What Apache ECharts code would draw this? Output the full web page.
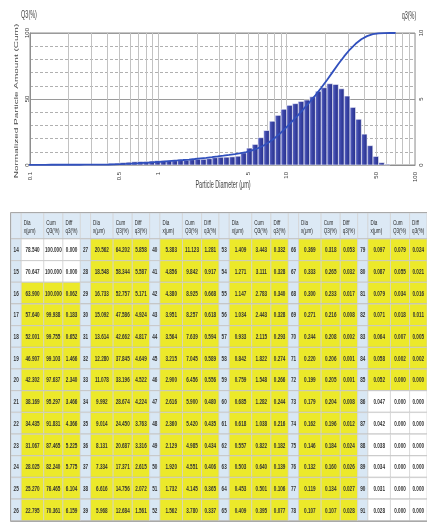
<!DOCTYPE html>
<html>
<head>
<meta charset="utf-8">
<script src="https://cdn.jsdelivr.net/npm/echarts@6/dist/echarts.min.js"></script>
<style>
  html, body { margin: 0; padding: 0; background: #fff; }
  #chart { width: 427px; height: 525px; }
</style>
</head>
<body>
<div id="chart"></div>
<script>
// Size classes of the laser-diffraction result (No. 14 .. 91)
const sizeClass = [
  14, 15, 16, 17, 18, 19, 20, 21, 22, 23, 24, 25, 26,
  27, 28, 29, 30, 31, 32, 33, 34, 35, 36, 37, 38, 39,
  40, 41, 42, 43, 44, 45, 46, 47, 48, 49, 50, 51, 52,
  53, 54, 55, 56, 57, 58, 59, 60, 61, 62, 63, 64, 65,
  66, 67, 68, 69, 70, 71, 72, 73, 74, 75, 76, 77, 78,
  79, 80, 81, 82, 83, 84, 85, 86, 87, 88, 89, 90, 91
];
// Particle diameter x (µm)
const diameter = [
  78.540, 70.647, 63.900, 57.640, 52.001, 46.907, 42.302, 38.169, 34.435, 31.067, 28.025, 25.270, 22.795,
  20.562, 18.548, 16.733, 15.092, 13.614, 12.280, 11.078, 9.992, 9.014, 8.131, 7.334, 6.616, 5.968,
  5.383, 4.856, 4.380, 3.951, 3.564, 3.215, 2.900, 2.616, 2.360, 2.129, 1.920, 1.732, 1.562,
  1.409, 1.271, 1.147, 1.034, 0.933, 0.842, 0.759, 0.685, 0.618, 0.557, 0.503, 0.453, 0.409,
  0.369, 0.333, 0.300, 0.271, 0.244, 0.220, 0.199, 0.179, 0.162, 0.146, 0.132, 0.119, 0.107,
  0.097, 0.087, 0.079, 0.071, 0.064, 0.058, 0.052, 0.047, 0.042, 0.038, 0.034, 0.031, 0.028
];
// Cumulative undersize Q3 (%)
const cumQ3 = [
  100.000, 100.000, 100.000, 99.938, 99.755, 99.103, 97.637, 95.297, 91.831, 87.465, 82.240, 76.465, 70.361,
  64.202, 58.344, 52.757, 47.586, 42.662, 37.845, 33.196, 28.674, 24.450, 20.687, 17.371, 14.756, 12.684,
  11.123, 9.842, 8.925, 8.257, 7.639, 7.045, 6.456, 5.900, 5.420, 4.985, 4.551, 4.145, 3.780,
  3.443, 3.111, 2.783, 2.443, 2.115, 1.822, 1.548, 1.282, 1.038, 0.822, 0.640, 0.501, 0.395,
  0.318, 0.265, 0.233, 0.216, 0.208, 0.206, 0.205, 0.204, 0.196, 0.184, 0.160, 0.134, 0.107,
  0.079, 0.055, 0.034, 0.018, 0.007, 0.002, 0.000, 0.000, 0.000, 0.000, 0.000, 0.000, 0.000
];
// Frequency q3 (%) of each class
const diffQ3 = [
  0.000, 0.000, 0.062, 0.183, 0.652, 1.466, 2.340, 3.466, 4.366, 5.225, 5.775, 6.104, 6.159,
  5.858, 5.587, 5.171, 4.924, 4.817, 4.649, 4.522, 4.224, 3.763, 3.316, 2.615, 2.072, 1.561,
  1.281, 0.917, 0.668, 0.618, 0.594, 0.589, 0.556, 0.480, 0.435, 0.434, 0.406, 0.365, 0.337,
  0.332, 0.328, 0.340, 0.328, 0.293, 0.274, 0.266, 0.244, 0.216, 0.182, 0.139, 0.106, 0.077,
  0.053, 0.032, 0.017, 0.008, 0.002, 0.001, 0.001, 0.008, 0.012, 0.024, 0.026, 0.027, 0.028,
  0.024, 0.021, 0.016, 0.011, 0.005, 0.002, 0.000, 0.000, 0.000, 0.000, 0.000, 0.000, 0.000
];
// Axis tick labels and grid positions
const xTickLabels = [0.1, 0.5, 1, 5, 10, 50, 100];
const xGridValues = [
  0.1, 0.2, 0.3, 0.4, 0.5, 0.6, 0.7, 0.8, 0.9,
  1, 2, 3, 4, 5, 6, 7, 8, 9,
  10, 20, 30, 40, 50, 60, 70, 80, 90, 100
];
const cumTicks = [0, 50, 100];
const diffTicks = [0, 5, 10];
const tableHeaders = ['Dia\nx(μm)', 'Cum\nQ3(%)', 'Diff\nq3(%)'];
const rowsPerBlock = 13;

const FONT = 'Liberation Sans, Arial, sans-serif';

// histogram bins: class i spans [x(i+1), x(i)]
const bins = [];
for (let i = 0; i < diameter.length - 1; i++) {
  if (diffQ3[i] > 0) bins.push([diameter[i + 1], diameter[i], diffQ3[i]]);
}
// cumulative curve starts with the second size class
const curve = diameter.map((d, i) => [d, cumQ3[i]]).slice(1);

// table: one item per (block, row); row -1 is the header
const blockCount = Math.ceil(sizeClass.length / rowsPerBlock);
const tableItems = [];
for (let g = 0; g < blockCount; g++) {
  tableItems.push([g, -1]);
  for (let r = 0; r < rowsPerBlock; r++) tableItems.push([g, r]);
}
const COL_EDGES = [0, 0.148, 0.473, 0.749, 1];
const HEADER_UNITS = 1.2;

function isHighlighted(i) {
  return diffQ3[i] > 0 || (i > 0 && diffQ3[i - 1] > 0);
}

function renderTableItem(params, api) {
  const g = api.value(0);
  const r = api.value(1);
  const header = r < 0;
  const yTop = header ? 0 : HEADER_UNITS + r;
  const yBot = header ? HEADER_UNITS : HEADER_UNITS + r + 1;
  const idx = g * rowsPerBlock + r;
  const children = [];
  for (let c = 0; c < 4; c++) {
    const p0 = api.coord([g + COL_EDGES[c], yTop]);
    const p1 = api.coord([g + COL_EDGES[c + 1], yBot]);
    const w = p1[0] - p0[0];
    const h = p1[1] - p0[1];
    let fill;
    let text = '';
    if (header) {
      fill = '#dce9f5';
      if (c > 0) text = tableHeaders[c - 1];
    } else if (c === 0) {
      fill = '#d8e7f4';
      text = String(sizeClass[idx]);
    } else {
      fill = isHighlighted(idx) ? '#ece92a' : '#ffffff';
      const src = c === 1 ? diameter : c === 2 ? cumQ3 : diffQ3;
      text = src[idx].toFixed(3);
    }
    children.push({
      type: 'rect',
      shape: { x: p0[0], y: p0[1], width: w, height: h },
      style: { fill: fill, stroke: '#d2d2d2', lineWidth: 0.7 }
    });
    if (text) {
      if (header) {
        children.push({
          type: 'text', x: p0[0] + 2.5, y: p0[1] + h / 2 + 1, scaleX: 0.7,
          style: { text: text, fontSize: 6.5, lineHeight: 8, fontFamily: FONT, fill: '#2a2a2a',
                   align: 'left', verticalAlign: 'middle' }
        });
      } else {
        children.push({
          type: 'text', x: p0[0] + w / 2, y: p0[1] + h / 2 + 0.5, scaleX: 0.66,
          style: { text: text, fontSize: 7, fontWeight: 'bold', fontFamily: FONT, fill: '#333',
                   align: 'center', verticalAlign: 'middle' }
        });
      }
    }
  }
  const a = api.coord([g, yBot]);
  const b = api.coord([g + 1, yBot]);
  children.push({
    type: 'line',
    shape: { x1: a[0], y1: a[1], x2: b[0], y2: b[1] },
    style: { stroke: '#b9b9b9', lineWidth: 1.5 }
  });
  return { type: 'group', children: children };
}

function renderBin(params, api) {
  const lo = api.coord([api.value(0), 0]);
  const hi = api.coord([api.value(1), api.value(2)]);
  const rect = echarts.graphic.clipRectByRect(
    { x: lo[0], y: hi[1], width: hi[0] - lo[0], height: lo[1] - hi[1] },
    { x: params.coordSys.x, y: params.coordSys.y,
      width: params.coordSys.width, height: params.coordSys.height }
  );
  if (!rect) return null;
  return {
    type: 'rect',
    shape: rect,
    style: {
      fill: new echarts.graphic.LinearGradient(0, 0, 1, 0, [
        { offset: 0, color: '#6b74cc' },
        { offset: 0.45, color: '#3a44a6' },
        { offset: 1, color: '#242e88' }
      ]),
      stroke: '#ffffff',
      lineWidth: 0.6
    }
  };
}

function renderXTick(params, api) {
  const v = api.value(0);
  const p = api.coord([v, 0]);
  return {
    type: 'text', x: p[0], y: p[1] + 7, rotation: Math.PI / 2,
    style: { text: String(v), fontSize: 6, fontFamily: FONT, fill: '#3a3a3a',
             align: 'right', verticalAlign: 'middle' }
  };
}
function makeYTick(xVal, xPos) {
  return function (params, api) {
    const v = api.value(1);
    const p = api.coord([xVal, v]);
    return {
      type: 'text', x: xPos, y: p[1], rotation: Math.PI / 2,
      style: { text: String(v), fontSize: 6, fontFamily: FONT, fill: '#3a3a3a',
               align: 'center', verticalAlign: 'middle' }
    };
  };
}

const chart = echarts.init(document.getElementById('chart'), null, { renderer: 'canvas' });
chart.setOption({
  animation: false,
  backgroundColor: '#ffffff',
  grid: [
    { left: 30, top: 33, width: 385, height: 132, show: true,
      borderColor: '#8e8e8e', borderWidth: 1, backgroundColor: 'transparent' },
    { left: 11, top: 213, width: 6 * 70.8, height: 308 }
  ],
  xAxis: [
    {
      gridIndex: 0, type: 'log', logBase: 10, min: 0.1, max: 100,
      axisLine: { show: true, lineStyle: { color: '#8e8e8e' } },
      axisTick: { show: false, customValues: xGridValues },
      axisLabel: { show: false },
      splitLine: { show: true, lineStyle: { color: '#c2c2c2', width: 1 } }
    },
    { gridIndex: 1, type: 'value', min: 0, max: 6, show: false }
  ],
  yAxis: [
    {
      gridIndex: 0, type: 'value', min: 0, max: 100, interval: 50,
      axisLine: { show: true, lineStyle: { color: '#8e8e8e' } },
      axisTick: { show: false },
      axisLabel: { show: false },
      splitLine: { show: true, lineStyle: { color: '#9a9a9a', width: 1 } },
      minorTick: { show: false, splitNumber: 5 },
      minorSplitLine: { show: true, lineStyle: { color: '#b0b0b0', width: 1, type: [3, 2] } }
    },
    {
      gridIndex: 0, type: 'value', min: 0, max: 10, interval: 5, position: 'right',
      axisLine: { show: false }, axisTick: { show: false },
      axisLabel: { show: false }, splitLine: { show: false }
    },
    { gridIndex: 1, type: 'value', min: 0, max: 14.2, inverse: true, show: false }
  ],
  series: [
    {
      name: 'q3', type: 'custom', xAxisIndex: 0, yAxisIndex: 1,
      encode: { x: [0, 1], y: 2 }, data: bins, renderItem: renderBin, z: 2
    },
    {
      name: 'Q3', type: 'line', xAxisIndex: 0, yAxisIndex: 0, data: curve,
      showSymbol: false, symbol: 'none', clip: true, z: 3,
      lineStyle: { color: '#3150bd', width: 1.8 }
    },
    {
      type: 'custom', xAxisIndex: 0, yAxisIndex: 0, silent: true, z: 4,
      data: xTickLabels.map(v => [v, 0]), renderItem: renderXTick
    },
    {
      type: 'custom', xAxisIndex: 0, yAxisIndex: 0, silent: true, z: 4,
      data: cumTicks.map(v => [0.1, v]), renderItem: makeYTick(0.1, 27)
    },
    {
      type: 'custom', xAxisIndex: 0, yAxisIndex: 1, silent: true, z: 4,
      data: diffTicks.map(v => [100, v]), renderItem: makeYTick(100, 421)
    },
    {
      type: 'custom', xAxisIndex: 1, yAxisIndex: 2, silent: true, z: 1,
      data: tableItems, renderItem: renderTableItem
    }
  ],
  graphic: [
    { type: 'text', x: 29, y: 15, scaleX: 0.55, silent: true,
      style: { text: 'Q3(%)', fontSize: 10, fontFamily: FONT, fill: '#444',
               align: 'center', verticalAlign: 'middle' } },
    { type: 'text', x: 409, y: 16, scaleX: 0.55, silent: true,
      style: { text: 'q3(%)', fontSize: 10, fontFamily: FONT, fill: '#444',
               align: 'center', verticalAlign: 'middle' } },
    { type: 'text', x: 16, y: 101, rotation: Math.PI / 2, scaleY: 0.55, silent: true,
      style: { text: 'Normalized Particle Amount (Cum)', fontSize: 10, fontFamily: FONT,
               fill: '#444', align: 'center', verticalAlign: 'middle' } },
    { type: 'text', x: 223, y: 185, scaleX: 0.55, silent: true,
      style: { text: 'Particle Diameter (μm)', fontSize: 10, fontFamily: FONT, fill: '#444',
               align: 'center', verticalAlign: 'middle' } },
    { type: 'rect', silent: true, z: 100,
      shape: { x: 10.5, y: 212.5, width: 430, height: 309 },
      style: { fill: 'none', stroke: '#a9a9a9', lineWidth: 1 } }
  ]
});
</script>
</body>
</html>
